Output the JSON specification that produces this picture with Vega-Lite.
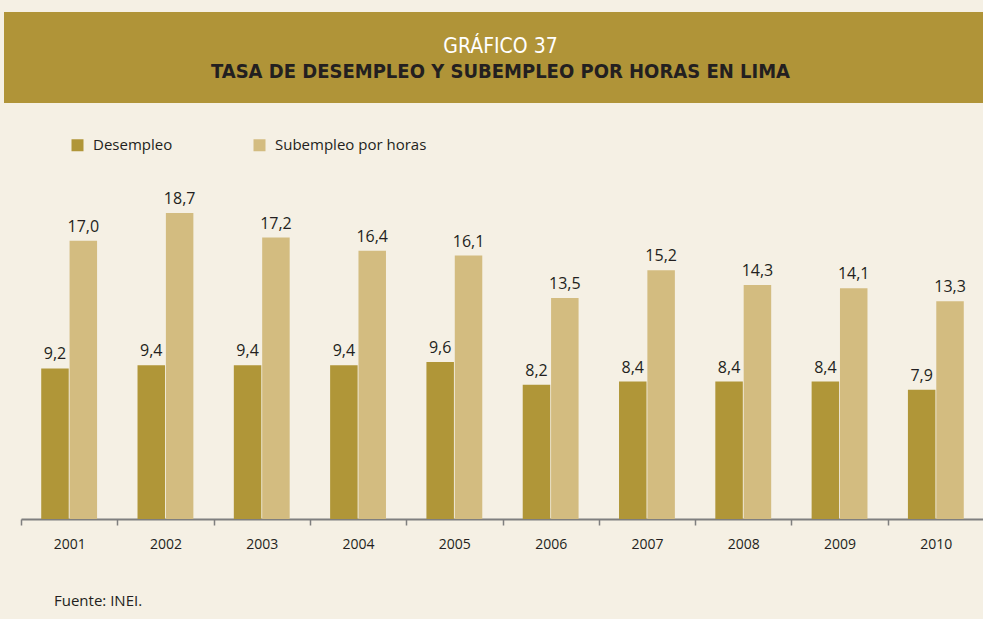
{
  "$schema": "https://vega.github.io/schema/vega-lite/v6.json",
  "background": "#F5F0E4",
  "padding": {"left": 4, "top": 12, "right": 0, "bottom": 12},
  "spacing": 56,
  "config": {
    "view": {"stroke": null},
    "font": "Open Sans",
    "locale": {"number": {"decimal": ",", "thousands": ".", "grouping": [3], "currency": ["", ""]}}
  },
  "vconcat": [
    {
      "width": 979,
      "height": 91,
      "view": {"fill": "#B09438", "stroke": null},
      "data": {"values": [{"titulo": "GRÁFICO 37", "subtitulo": "TASA DE DESEMPLEO  Y SUBEMPLEO POR HORAS EN LIMA"}]},
      "layer": [
        {
          "mark": {"type": "text", "font": "Liberation Sans Narrow, DejaVu Sans Condensed, Roboto", "fontSize": 21, "fontWeight": 300, "color": "#FFFFFF", "baseline": "alphabetic", "align": "center", "dx": 7, "dy": -4.5},
          "encoding": {"text": {"field": "titulo", "type": "nominal"}}
        },
        {
          "mark": {"type": "text", "font": "Liberation Sans Narrow, DejaVu Sans Condensed, Roboto", "fontSize": 20, "fontWeight": "bold", "color": "#231F20", "baseline": "alphabetic", "align": "center", "dx": 7, "dy": 20.5},
          "encoding": {"text": {"field": "subtitulo", "type": "nominal"}}
        }
      ]
    },
    {
      "spacing": 0,
      "hconcat": [
        {
          "width": 16,
          "height": 360,
          "data": {"values": []},
          "mark": {"type": "rule"},
          "encoding": {}
        },
        {
          "width": 963,
          "height": 360,
          "title": {"text": "Fuente: INEI.", "orient": "bottom", "anchor": "start", "frame": "group", "dx": 33, "offset": 43, "fontSize": 15, "font": "Open Sans", "fontWeight": "normal", "color": "#231F20"},
          "data": {"values": [
            {"anio": "2001", "serie": "Desempleo", "tasa": 9.2},
            {"anio": "2001", "serie": "Subempleo por horas", "tasa": 17.0},
            {"anio": "2002", "serie": "Desempleo", "tasa": 9.4},
            {"anio": "2002", "serie": "Subempleo por horas", "tasa": 18.7},
            {"anio": "2003", "serie": "Desempleo", "tasa": 9.4},
            {"anio": "2003", "serie": "Subempleo por horas", "tasa": 17.2},
            {"anio": "2004", "serie": "Desempleo", "tasa": 9.4},
            {"anio": "2004", "serie": "Subempleo por horas", "tasa": 16.4},
            {"anio": "2005", "serie": "Desempleo", "tasa": 9.6},
            {"anio": "2005", "serie": "Subempleo por horas", "tasa": 16.1},
            {"anio": "2006", "serie": "Desempleo", "tasa": 8.2},
            {"anio": "2006", "serie": "Subempleo por horas", "tasa": 13.5},
            {"anio": "2007", "serie": "Desempleo", "tasa": 8.4},
            {"anio": "2007", "serie": "Subempleo por horas", "tasa": 15.2},
            {"anio": "2008", "serie": "Desempleo", "tasa": 8.4},
            {"anio": "2008", "serie": "Subempleo por horas", "tasa": 14.3},
            {"anio": "2009", "serie": "Desempleo", "tasa": 8.4},
            {"anio": "2009", "serie": "Subempleo por horas", "tasa": 14.1},
            {"anio": "2010", "serie": "Desempleo", "tasa": 7.9},
            {"anio": "2010", "serie": "Subempleo por horas", "tasa": 13.3}
          ]},
          "encoding": {
            "x": {
              "field": "anio", "type": "ordinal", "title": null,
              "scale": {"paddingInner": 0.42, "paddingOuter": 0.21},
              "axis": {"tickOffset": -48.15, "labelOffset": 48.15, "domainColor": "#7F7F7F", "domainWidth": 2, "tickColor": "#7F7F7F", "tickWidth": 1.5, "tickSize": 6, "labelFontSize": 14, "labelColor": "#231F20", "labelPadding": 12, "labelAngle": 0, "labelFont": "Open Sans"}
            },
            "xOffset": {"field": "serie", "type": "nominal", "sort": ["Desempleo", "Subempleo por horas"], "scale": {"paddingInner": 0.03}},
            "y": {"field": "tasa", "type": "quantitative", "scale": {"domain": [0, 22]}, "axis": null}
          },
          "layer": [
            {
              "mark": {"type": "bar"},
              "encoding": {
                "color": {
                  "field": "serie", "type": "nominal",
                  "scale": {"domain": ["Desempleo", "Subempleo por horas"], "range": ["#B09638", "#D3BC80"]},
                  "legend": {"title": null, "orient": "none", "legendX": 66, "legendY": 125.5, "direction": "horizontal", "symbolType": "square", "symbolSize": 144, "symbolStrokeWidth": 0, "symbolOpacity": 1, "labelFontSize": 15, "labelColor": "#231F20", "labelFont": "Open Sans", "labelOffset": 8, "columnPadding": 79, "padding": 0}
                }
              }
            },
            {
              "mark": {"type": "text", "dy": -9, "baseline": "alphabetic", "fontSize": 16, "color": "#231F20", "font": "Open Sans"},
              "encoding": {"text": {"field": "tasa", "type": "quantitative", "format": ".1f"}}
            }
          ]
        }
      ]
    }
  ]
}
